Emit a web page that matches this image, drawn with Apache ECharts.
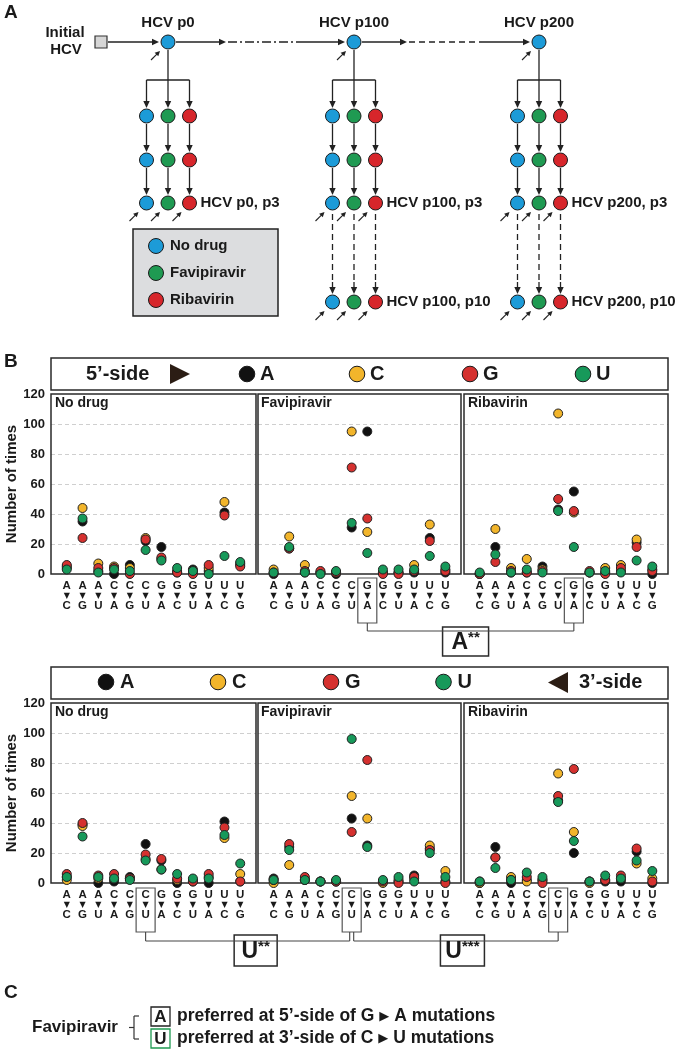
<!DOCTYPE html>
<html><head><meta charset="utf-8">
<script src="https://cdn.jsdelivr.net/npm/echarts@6/dist/echarts.min.js"></script>
<style>html,body{margin:0;padding:0;background:#fff}#c{width:675px;height:1051px}</style>
</head><body><div id="c"></div>
<script>
// ---------- data ----------
const fromBase = ['A','A','A','C','C','C','G','G','G','U','U','U'];
const toBase   = ['C','G','U','A','G','U','A','C','U','A','C','G'];
const bases = ['A','C','G','U'];
const panelNames = ['No drug','Favipiravir','Ribavirin'];
const yTicks = [0,20,40,60,80,100,120];

// 5'-side (top row)
const top_noDrug_A = [4,35,2,0,6,22,18,1,3,2,41,6];
const top_noDrug_C = [5,44,7,5,4,24,10,2,2,4,48,7];
const top_noDrug_G = [6,24,4,4,0,23,11,1,0,6,39,5];
const top_noDrug_U = [3,37,1,3,2,16,9,4,2,0,12,8];
const top_favi_A = [0,17,1,1,0,31,95,1,1,1,24,1];
const top_favi_C = [3,25,6,1,1,95,28,1,1,6,33,3];
const top_favi_G = [1,17,2,2,1,71,37,0,0,2,22,2];
const top_favi_U = [1,18,1,0,2,34,14,3,3,3,12,5];
const top_riba_A = [0,18,1,1,5,43,55,1,1,2,21,0];
const top_riba_C = [0,30,4,10,3,107,41,1,4,6,23,3];
const top_riba_G = [0,8,2,1,2,50,42,2,0,4,18,2];
const top_riba_U = [1,13,1,3,1,42,18,1,2,1,9,5];
// 3'-side (bottom row)
const bot_noDrug_A = [4,39,0,1,4,26,15,0,1,0,41,1];
const bot_noDrug_C = [2,38,3,3,3,16,9,2,2,4,30,6];
const bot_noDrug_G = [6,40,5,6,3,19,16,3,1,6,37,1];
const bot_noDrug_U = [4,31,4,3,2,15,9,6,3,3,32,13];
const bot_favi_A = [3,24,2,1,1,43,25,1,1,5,23,1];
const bot_favi_C = [0,12,2,1,1,58,43,0,2,3,25,8];
const bot_favi_G = [2,26,4,1,1,34,82,1,0,4,22,0];
const bot_favi_U = [2,22,2,1,2,96,24,2,4,1,20,4];
const bot_riba_A = [0,24,0,2,2,55,20,1,1,1,21,0];
const bot_riba_C = [0,17,4,1,2,73,34,0,2,3,13,3];
const bot_riba_G = [1,17,2,4,0,58,76,1,2,5,23,1];
const bot_riba_U = [1,10,2,7,4,54,28,1,5,3,15,8];

const panels = [
  [top_noDrug_A, top_noDrug_C, top_noDrug_G, top_noDrug_U],
  [top_favi_A, top_favi_C, top_favi_G, top_favi_U],
  [top_riba_A, top_riba_C, top_riba_G, top_riba_U],
  [bot_noDrug_A, bot_noDrug_C, bot_noDrug_G, bot_noDrug_U],
  [bot_favi_A, bot_favi_C, bot_favi_G, bot_favi_U],
  [bot_riba_A, bot_riba_C, bot_riba_G, bot_riba_U]
];

// ---------- style ----------
const FF = '"Liberation Sans", Arial, Helvetica, sans-serif';
const baseColors = {A:'#111111', C:'#f2b52b', G:'#d5312f', U:'#17995a'};
const BLUE = '#1c9bd8', GREEN = '#1f9a52', RED = '#d7262b', INK = '#1a1a1a';

const gridX = [[51,205],[258,203],[464,204]];
const gridY = [394, 703];
const GH = 180;

const chart = echarts.init(document.getElementById('c'), null, {renderer:'canvas'});

const grids = [], xAxes = [], yAxes = [], series = [];
for (let r = 0; r < 2; r++) {
  for (let c = 0; c < 3; c++) {
    const gi = r*3 + c;
    grids.push({left: gridX[c][0], width: gridX[c][1], top: gridY[r], height: GH, show: false});
    xAxes.push({type:'value', gridIndex: gi, min:-1, max:12, interval:1,
      axisLine:{show:false}, axisTick:{show:false}, splitLine:{show:false},
      axisLabel:{show:true, margin:7, interval:0,
        formatter: v => (v >= 0 && v <= 11) ? '{b|' + fromBase[v] + '}\n{t|▼}\n{b|' + toBase[v] + '}' : '',
        rich:{ b:{fontSize:11.5, fontWeight:'bold', fontFamily:FF, color:INK, lineHeight:10},
               t:{fontSize:8, fontFamily:'"DejaVu Sans", sans-serif', color:INK, lineHeight:10} }}});
    yAxes.push({type:'value', gridIndex: gi, min:0, max:120, interval:20,
      axisLine:{show:false}, axisTick:{show:false},
      splitLine:{show:true, showMinLine:false, showMaxLine:false,
        lineStyle:{color:'#cfcfcf', type:[4,3], width:1}},
      axisLabel:{show: c === 0, fontSize:13, fontWeight:'bold', color:INK, margin:6, fontFamily:FF},
      name: c === 0 ? 'Number of times' : '', nameLocation:'middle', nameGap:29, nameRotate:90,
      nameTextStyle:{fontSize:15, fontWeight:'bold', color:INK, fontFamily:FF}});
    bases.forEach((b, bi) => {
      series.push({type:'scatter', xAxisIndex: gi, yAxisIndex: gi, clip:false,
        symbol:'circle', symbolSize: 9, name: b,
        itemStyle:{color: baseColors[b], borderColor:'#222', borderWidth:1, opacity:1},
        data: panels[gi][bi].map((v, i) => [i, v]), z: 3 + bi});
    });
  }
}

chart.setOption({
  animation:false,
  textStyle:{fontFamily:FF},
  grid: grids, xAxis: xAxes, yAxis: yAxes, series: series
});

// ---------- graphics ----------
const G = [];
function txt(x, y, text, size, opts) {
  G.push({type:'text', x, y, z:20, style:Object.assign({text, fontSize:size, fontWeight:'bold', fontFamily:FF,
    fill:INK, align:'left', verticalAlign:'middle'}, opts || {})});
}
function circ(cx, cy, r, fill) {
  G.push({type:'circle', z:20, shape:{cx, cy, r}, style:{fill, stroke:INK, lineWidth:1}});
}
function line(x1, y1, x2, y2, opts) {
  G.push({type:'line', z:20, shape:{x1, y1, x2, y2},
    style:Object.assign({stroke:'#222', lineWidth:1.3}, opts || {})});
}
function rect(x, y, w, h, style, z) {
  G.push({type:'rect', z: (z === undefined ? 19 : z), shape:{x, y, width:w, height:h},
    style:Object.assign({fill:'#fff', stroke:'#2a2a2a', lineWidth:1.5}, style || {})});
}
function poly(points, fill) {
  G.push({type:'polygon', z:20, shape:{points}, style:{fill: fill || '#222'}});
}
function arrow(x1, y1, x2, y2, opts) {
  opts = opts || {};
  const dx = x2 - x1, dy = y2 - y1, L = Math.hypot(dx, dy), ux = dx / L, uy = dy / L;
  const hl = opts.hl || 7, hw = opts.hw || 3.2;
  const bx = x2 - ux * hl, by = y2 - uy * hl;
  line(x1, y1, bx + ux, by + uy, {lineWidth: opts.lw || 1.3});
  poly([[x2, y2], [bx - uy * hw, by + ux * hw], [bx + uy * hw, by - ux * hw]]);
}
function miniArrow(tx, ty) { arrow(tx - 9, ty + 9, tx, ty, {hl:5, hw:2.6, lw:1.1}); }

// panel frames (below the markers)
for (let r = 0; r < 2; r++) for (let c = 0; c < 3; c++)
  rect(gridX[c][0], gridY[r], gridX[c][1], GH, {fill:'none', stroke:'#2a2a2a', lineWidth:1.5}, 1);

// Panel letters
txt(4, 13, 'A', 19);
txt(4, 362, 'B', 19);
txt(4, 993, 'C', 19);

// ---------- Panel A ----------
txt(65, 33, 'Initial', 15, {align:'center'});
txt(66, 50, 'HCV', 15, {align:'center'});
rect(95, 36, 12, 12, {fill:'#d6d6d6', stroke:'#333', lineWidth:1.2});
const groupX = [168, 354, 539];
const groupLbl = ['HCV p0', 'HCV p100', 'HCV p200'];
const NY = 42;
arrow(108, NY, 159, NY);
arrow(176, NY, 226, NY);
line(228, NY, 296, NY, {lineDash:[9,3,2,3]});
arrow(296, NY, 345, NY);
arrow(362, NY, 407, NY);
line(409, NY, 482, NY, {lineDash:[6,4]});
arrow(482, NY, 530, NY);

const colColors = [BLUE, GREEN, RED];
const rows = [116, 160, 203];
groupX.forEach((cx, g) => {
  circ(cx, NY, 7, BLUE);
  txt(cx, 23, groupLbl[g], 15, {align:'center'});
  miniArrow(cx - 8, NY + 9);
  const cols = [cx - 21.5, cx, cx + 21.5];
  line(cols[0], 80, cols[2], 80);
  arrow(cx, 50, cx, 108);
  arrow(cols[0], 80, cols[0], 108);
  arrow(cols[2], 80, cols[2], 108);
  cols.forEach((x, k) => {
    arrow(x, 124, x, 152);
    arrow(x, 168, x, 195);
    rows.forEach(y => circ(x, y, 7, colColors[k]));
    miniArrow(x - 8, rows[2] + 9);
    if (g > 0) {
      line(x, 214, x, 282, {lineDash:[6,4]});
      arrow(x, 282, x, 294);
      circ(x, 302, 7, colColors[k]);
      miniArrow(x - 8, 302 + 9);
    }
  });
  txt(cols[2] + 11, 203, groupLbl[g] + ', p3', 15);
  if (g > 0) txt(cols[2] + 11, 302, groupLbl[g] + ', p10', 15);
});
rect(133, 229, 145, 87, {fill:'#dcdddf', stroke:'#222', lineWidth:1.5});
['No drug','Favipiravir','Ribavirin'].forEach((t, i) => {
  const y = 246 + i * 27;
  circ(156, y, 7.5, colColors[i]);
  txt(170, y, t, 15);
});

// ---------- Panel B headers ----------
rect(51, 358, 617, 32);
txt(86, 374, '5\u2019-side', 20);
poly([[170, 364], [190, 374], [170, 384]], '#2b1d14');
[[247,'A'],[357,'C'],[470,'G'],[583,'U']].forEach(([x, b]) => {
  circ(x, 374, 7.8, baseColors[b]);
  txt(x + 13, 374, b, 20);
});
rect(51, 667, 617, 32);
[[106,'A'],[218,'C'],[331,'G'],[443.5,'U']].forEach(([x, b]) => {
  circ(x, 682, 7.8, baseColors[b]);
  txt(x + 14, 682, b, 20);
});
poly([[568, 672], [548, 682.5], [568, 693]], '#2b1d14');
txt(579, 682, '3\u2019-side', 20);

const titleX = [55, 261, 468];
for (let r = 0; r < 2; r++) {
  panelNames.forEach((n, c) => txt(titleX[c], gridY[r] + 9, n, 14));
}

// boxed columns and significance
const px = (gi, v) => chart.convertToPixel({xAxisIndex: gi}, v);
function starBox(x, y, w, h, letter, stars) {
  rect(x, y, w, h, {lineWidth:1.5});
  G.push({type:'text', z:21, x: x + w / 2, y: y + h / 2 + 1, style:{
    text:'{b|' + letter + '}{s|' + stars + '}', align:'center', verticalAlign:'middle',
    rich:{ b:{fontSize:23, fontWeight:'bold', fontFamily:FF, fill:INK, lineHeight:24},
           s:{fontSize:15, fontWeight:'bold', fontFamily:FF, fill:INK, verticalAlign:'top', lineHeight:24} }}});
}
{
  const a = px(1, 6), b = px(2, 6);
  rect(a - 9.5, 578, 19, 45, {fill:'none', stroke:'#555', lineWidth:1.2});
  rect(b - 9.5, 578, 19, 45, {fill:'none', stroke:'#555', lineWidth:1.2});
  line(a, 623, a, 631, {stroke:'#444', lineWidth:1.1});
  line(b, 623, b, 631, {stroke:'#444', lineWidth:1.1});
  line(a, 631, b, 631, {stroke:'#444', lineWidth:1.1});
  const m = (a + b) / 2 - 5;
  starBox(m - 23, 627, 46, 29, 'A', '**');
}
{
  const a = px(3, 5), b = px(4, 5), c = px(5, 5);
  [a, b, c].forEach(x => rect(x - 9.5, 888, 19, 44, {fill:'none', stroke:'#555', lineWidth:1.2}));
  line(a, 932, a, 941, {stroke:'#444', lineWidth:1.1});
  line(b - 2, 932, b - 2, 941, {stroke:'#444', lineWidth:1.1});
  line(b + 2, 932, b + 2, 941, {stroke:'#444', lineWidth:1.1});
  line(c, 932, c, 941, {stroke:'#444', lineWidth:1.1});
  line(a, 941, b - 2, 941, {stroke:'#444', lineWidth:1.1});
  line(b + 2, 941, c, 941, {stroke:'#444', lineWidth:1.1});
  const m1 = (a + b) / 2 + 7, m2 = (b + c) / 2 + 7.5;
  starBox(m1 - 21.5, 935, 43, 31, 'U', '**');
  starBox(m2 - 22, 935, 44, 31, 'U', '***');
}

// ---------- Panel C ----------
txt(32, 1027.5, 'Favipiravir', 17);
line(134, 1016, 134, 1039, {stroke:'#333', lineWidth:1.2});
line(134, 1016, 139, 1016, {stroke:'#333', lineWidth:1.2});
line(134, 1039, 139, 1039, {stroke:'#333', lineWidth:1.2});
line(129, 1027.5, 134, 1027.5, {stroke:'#333', lineWidth:1.2});
rect(151, 1007, 19, 19, {fill:'none', stroke:'#222', lineWidth:1.3});
rect(151, 1029, 19, 19, {fill:'none', stroke:GREEN, lineWidth:1.3});
txt(160.5, 1017, 'A', 17, {align:'center'});
txt(160.5, 1039, 'U', 17, {align:'center'});
const richC = { n:{fontSize:17.5, fontWeight:'bold', fontFamily:FF, fill:INK},
                t:{fontSize:13, fontFamily:'"DejaVu Sans", sans-serif', fill:INK} };
G.push({type:'text', z:20, x:177, y:1016.5, style:{text:'{n|preferred at 5\u2019-side of G }{t|\u25B6}{n| A mutations}',
  verticalAlign:'middle', rich:richC}});
G.push({type:'text', z:20, x:177, y:1038.5, style:{text:'{n|preferred at 3\u2019-side of C }{t|\u25B6}{n| U mutations}',
  verticalAlign:'middle', rich:richC}});

chart.setOption({graphic: G});
</script></body></html>
